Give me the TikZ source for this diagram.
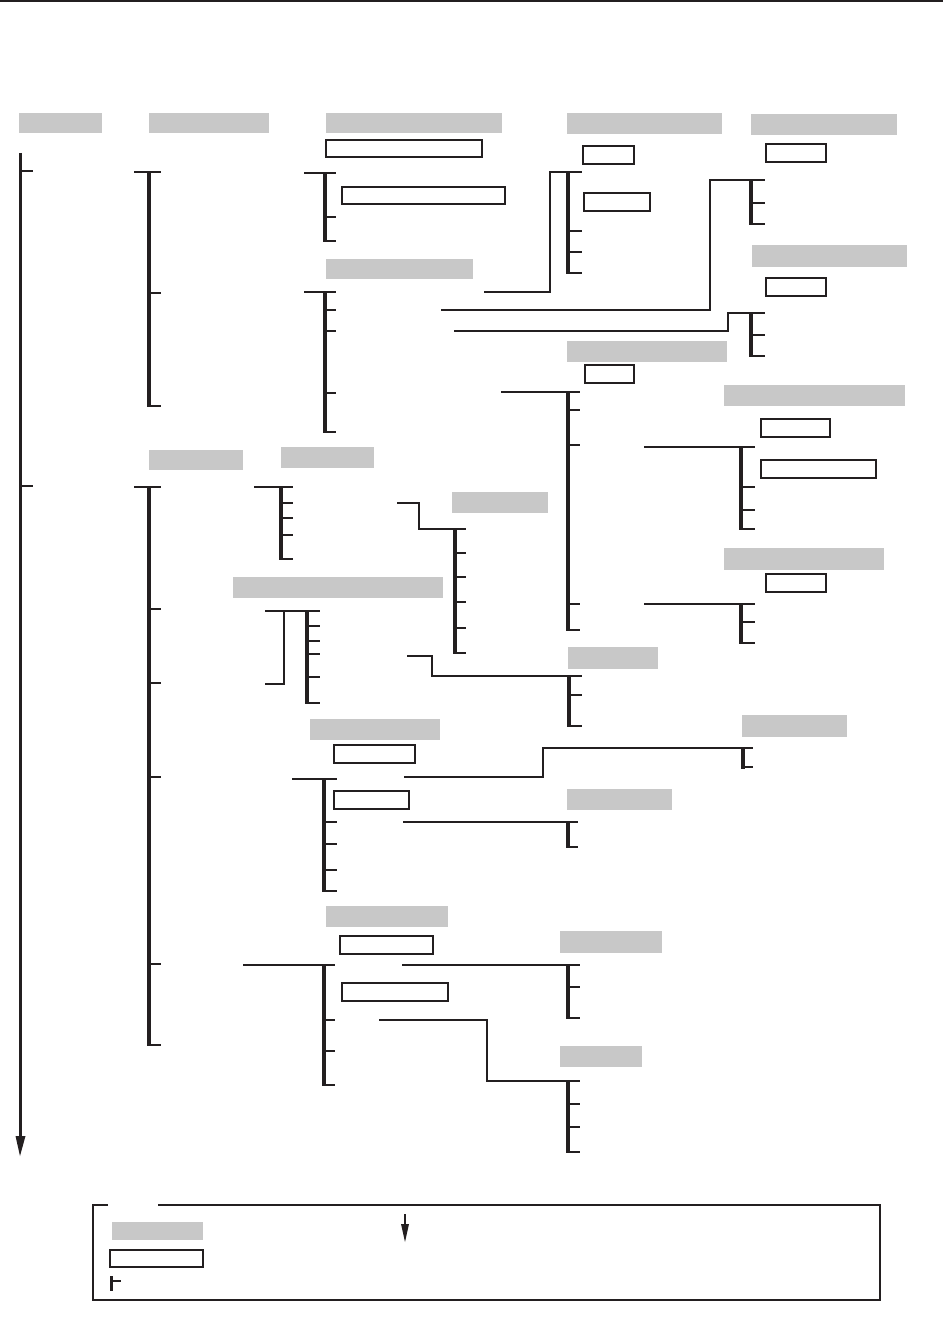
\documentclass[tikz,border=0pt]{standalone}
\usepackage{tikz}
\definecolor{boxgrey}{RGB}{200,200,200}
\definecolor{ink}{RGB}{35,31,32}
\tikzset{
 greybox/.style={fill=boxgrey, draw=none, inner sep=0pt, outer sep=0pt, anchor=north west},
 whitebox/.style={fill=white, draw=ink, line width=1.2pt, inner sep=0pt, outer sep=0pt, anchor=north west},
 link/.style={draw=ink, line width=1.4pt},
 barline/.style={draw=ink, line width=4pt},
}
\newcommand\gbox[5]{\node[greybox,minimum width={(#4-#2)*1pt},minimum height={(#5-#3)*1pt}] (#1) at (#2,#3) {};}
\newcommand\wbox[5]{\node[whitebox,minimum width={(#4-#2)*1pt},minimum height={(#5-#3)*1pt}] (#1) at (#2,#3) {};}
\newcommand\tbar[6]{% name, x, ytop, ybot, xend, ticks
 \coordinate (#1) at (#2,#3);
 \draw[barline] (#2,#3-0.7) -- (#2,#4+0.7);
 \foreach \t in {#6} {\draw[link] (#2,\t) -- (#5,\t);}
}
\begin{document}
\begin{tikzpicture}[x=1pt,y=-1pt]
\useasboundingbox (0,0) rectangle (943,1332);
% top rule
\draw[ink, line width=2pt] (0,1) -- (943,1);
% grey boxes
\gbox{g1}{19}{113}{102}{133}
\gbox{g2}{149}{113}{269}{133}
\gbox{g3}{326}{113}{502}{133}
\gbox{g4}{567}{113}{722}{134}
\gbox{g5}{751}{114}{897}{135}
\gbox{g6}{326}{259}{473}{279}
\gbox{g7}{752}{245}{907}{267}
\gbox{g8}{567}{341}{727}{362}
\gbox{g9}{724}{385}{905}{406}
\gbox{g10}{724}{548}{884}{570}
\gbox{g11}{149}{450}{243}{470}
\gbox{g12}{281}{447}{374}{468}
\gbox{g13}{452}{492}{548}{513}
\gbox{g14}{233}{577}{443}{598}
\gbox{g15}{568}{647}{658}{669}
\gbox{g16}{742}{715}{847}{737}
\gbox{g17}{310}{719}{440}{740}
\gbox{g18}{567}{789}{672}{810}
\gbox{g19}{326}{906}{448}{927}
\gbox{g20}{560}{931}{662}{953}
\gbox{g21}{560}{1046}{642}{1067}
% white boxes
\wbox{w1}{326}{140}{482}{157}
\wbox{w2}{342}{187}{505}{204}
\wbox{w3}{583}{146}{634}{164}
\wbox{w4}{584}{193}{650}{211}
\wbox{w5}{766}{144}{826}{162}
\wbox{w6}{766}{278}{826}{296}
\wbox{w7}{585}{365}{634}{383}
\wbox{w8}{761}{419}{830}{437}
\wbox{w9}{761}{460}{876}{478}
\wbox{w10}{766}{574}{826}{592}
\wbox{w11}{334}{745}{415}{763}
\wbox{w12}{334}{791}{409}{809}
\wbox{w13}{340}{936}{433}{954}
\wbox{w14}{342}{983}{448}{1001}
% main time axis
\coordinate (axtop) at (20,153);
\coordinate (axend) at (20,1140);
\draw[ink, line width=3pt] (axtop) -- (axend);
\fill[ink] (15.5,1136) -- (25.5,1136) -- (20,1156) -- cycle;
\draw[link] (20,171) -- (33,171);
\draw[link] (20,486) -- (33,486);
% bars
\tbar{b1}{149}{172}{406}{161}{172,293,406}
\draw[link] (134,172) -- (b1);
\tbar{b2}{325}{173}{241}{336}{173,217,241}
\draw[link] (304,173) -- (b2);
\tbar{b3}{325}{292}{432}{336}{292,310,331,393,432}
\draw[link] (304,292) -- (b3);
\tbar{b4}{568}{172}{273}{582}{172,231,252,273}
\draw[link] (484,292) -- (550,292) -- (550,172) -- (b4);
\tbar{b5}{751}{180}{224}{765}{180,203,224}
\draw[link] (441,310) -- (710,310) -- (710,180) -- (b5);
\tbar{b6}{751}{313}{356}{765}{313,335,356}
\draw[link] (454,331) -- (728,331) -- (728,313) -- (b6);
\tbar{b7}{568}{392}{630}{580}{392,410,445,604,630}
\draw[link] (501,392) -- (b7);
\tbar{b8}{741}{447}{529}{755}{447,487,510,529}
\draw[link] (644,447) -- (b8);
\tbar{b9}{741}{604}{643}{755}{604,622,643}
\draw[link] (644,604) -- (b9);
\tbar{b10}{149}{487}{1045}{161}{487,609,683,777,964,1045}
\draw[link] (134,487) -- (b10);
\tbar{b11}{281}{487}{559}{293}{487,503,518,535,559}
\draw[link] (254,487) -- (b11);
\tbar{b12}{455}{529}{653}{466}{529,553,577,602,628,653}
\draw[link] (397,503) -- (419,503) -- (419,529) -- (b12);
\tbar{b13}{307}{611}{703}{320}{611,626,641,654,677,703}
\draw[link] (265,611) -- (b13);
\draw[link] (265,684) -- (284,684) -- (284,611);
\tbar{b14}{569}{676}{726}{582}{676,695,726}
\draw[link] (407,656) -- (432,656) -- (432,676) -- (b14);
\tbar{b15}{743}{748}{768}{753}{748,767}
\draw[link] (404,777) -- (543,777) -- (543,748) -- (b15);
\tbar{b16}{324}{779}{891}{337}{779,822,844,870,891}
\draw[link] (292,779) -- (b16);
\tbar{b17}{568}{822}{847}{578}{822,847}
\draw[link] (403,822) -- (b17);
\tbar{b18}{324}{965}{1085}{335}{965,1020,1051,1085}
\draw[link] (243,965) -- (b18);
\tbar{b19}{568}{965}{1018}{580}{965,987,1018}
\draw[link] (402,965) -- (b19);
\tbar{b20}{568}{1081}{1152}{580}{1081,1104,1127,1152}
\draw[link] (379,1020) -- (487,1020) -- (487,1081) -- (b20);
% legend
\draw[ink, line width=1.2pt] (108,1205) -- (93,1205) -- (93,1300) -- (880,1300) -- (880,1205) -- (158,1205);
\gbox{lg}{112}{1222}{203}{1240}
\wbox{lw}{110}{1250}{203}{1267}
\draw[ink, line width=3pt] (111,1276) -- (111,1291);
\draw[link] (111,1281) -- (121,1281);
\draw[ink, line width=1.8pt] (405,1214) -- (405,1228);
\fill[ink] (401,1224) -- (409,1224) -- (405,1242) -- cycle;
\end{tikzpicture}
\end{document}
